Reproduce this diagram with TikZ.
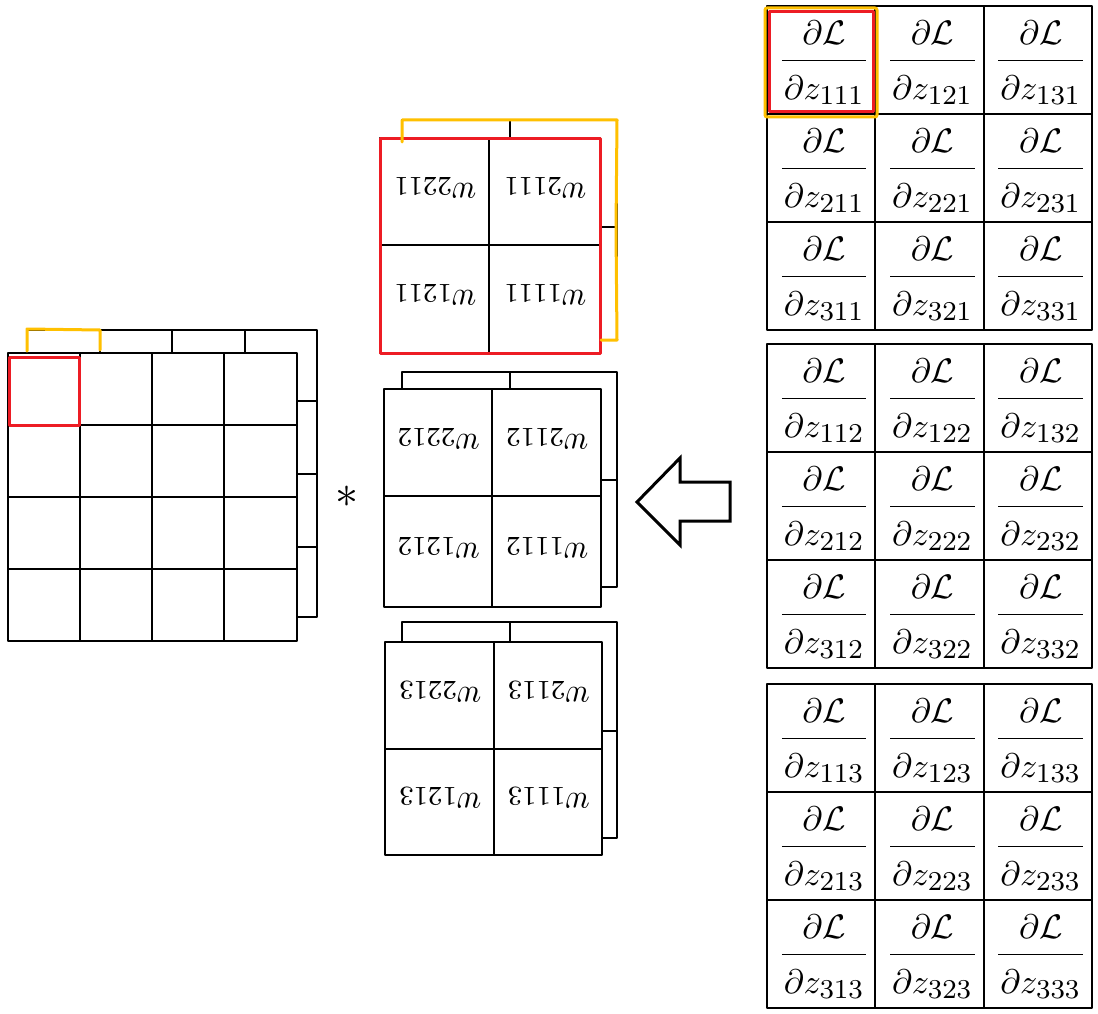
\documentclass[tikz,border=0pt]{standalone}
\usepackage{amsmath}
\DeclareMathSizes{10}{10}{8}{6}
\definecolor{myred}{RGB}{237,28,36}
\definecolor{myorange}{RGB}{255,192,0}
\newcommand{\gradfrac}[1]{\dfrac{\partial\mathcal{L}\vrule width 0pt depth 0.32em}{\mkern1mu\vrule width 0pt height 1.0em\partial z_{#1}\mkern1mu}}
\tikzset{
 gridline/.style={line width=2.2pt, black, line join=round},
 redmark/.style={line width=3pt, myred, line join=round},
 orangemark/.style={line width=3pt, myorange, line join=round, line cap=round},
 gradlabel/.style={font=\normalsize, inner sep=0pt, scale=3.4},
 wlabel/.style={font=\normalsize, inner sep=0pt, scale=3.4, rotate=180},
 arrowshape/.style={line width=3pt, black, line join=miter, fill=white},
}
\begin{document}
\begin{tikzpicture}[x=1pt,y=-1pt]
\useasboundingbox (0,0) rectangle (1098,1014);
\fill[white] (0,0) rectangle (1098,1014);

% left input: back slice
\draw[gridline] (27,330) rectangle (317,617);
\foreach \x in {100,172,245} \draw[gridline] (\x,330) -- (\x,617);
\foreach \y in {401,474,547} \draw[gridline] (27,\y) -- (317,\y);
% left input: front slice
\draw[gridline, fill=white] (8,353) rectangle (297,641);
\foreach \x in {80,152,224} \draw[gridline] (\x,353) -- (\x,641);
\foreach \y in {425,497,569} \draw[gridline] (8,\y) -- (297,\y);
\draw[redmark] (9,357) rectangle (79,425);
\draw[orangemark] (27,351) -- (27,329) -- (100,330) -- (100,350);

% asterisk
\node[font=\normalsize, inner sep=0pt, scale=4.6] (ast) at (347,497) {$\ast$};

% kernels (rotated 180)
\foreach \k/\bl/\bt/\bb/\bmy/\fl/\ft/\fr/\fb/\fmx/\fmy in
 {1/402/120/340/227/380/138/600/353/489/245,
  2/402/372/587/480/384/389/601/607/492/496,
  3/402/622/838/731/385/642/602/855/494/749}
{
 \draw[gridline] (\bl,\bt) rectangle (617,\bb);
 \draw[gridline] (510,\bt) -- (510,\bb);
 \draw[gridline] (\bl,\bmy) -- (617,\bmy);
 \draw[gridline, fill=white] (\fl,\ft) rectangle (\fr,\fb);
 \draw[gridline] (\fmx,\ft) -- (\fmx,\fb);
 \draw[gridline] (\fl,\fmy) -- (\fr,\fmy);
 \node[wlabel] (wa\k) at ({(\fl+\fmx)/2},{(\ft+\fmy)/2-4}) {$w_{221\k}$};
 \node[wlabel] (wb\k) at ({(\fmx+\fr)/2},{(\ft+\fmy)/2-4}) {$w_{211\k}$};
 \node[wlabel] (wc\k) at ({(\fl+\fmx)/2},{(\fmy+\fb)/2-4}) {$w_{121\k}$};
 \node[wlabel] (wd\k) at ({(\fmx+\fr)/2},{(\fmy+\fb)/2-4}) {$w_{111\k}$};
}
\draw[redmark] (380,139) rectangle (600,353);
\draw[orangemark] (402,142) -- (402,120) -- (617,120) -- (616,230) -- (617,340) -- (601,340);

% hollow arrow
\draw[arrowshape] (637,502) -- (680,458) -- (680,482) -- (730,482) -- (730,521) -- (680,521) -- (680,545) -- cycle;

% gradient grids
\foreach \g/\yo in {1/6, 2/344, 3/684}
{
 \draw[gridline] (767,\yo) rectangle (1092,{\yo+324});
 \foreach \x in {875,984} \draw[gridline] (\x,\yo) -- (\x,{\yo+324});
 \foreach \dy in {108,216} \draw[gridline] (767,{\yo+\dy}) -- (1092,{\yo+\dy});
 \foreach \i in {1,2,3}
  \foreach \j in {1,2,3}
   \node[gradlabel] (d\i\j\g) at ({767+108.3*(\j-0.5)+3},{\yo+108*(\i-0.5)+3})
     {$\gradfrac{\i\j\g}$};
}
\draw[orangemark, rounded corners=2pt] (765,8) rectangle (877,117);
\draw[redmark] (769,12) rectangle (873,112);
\end{tikzpicture}
\end{document}
